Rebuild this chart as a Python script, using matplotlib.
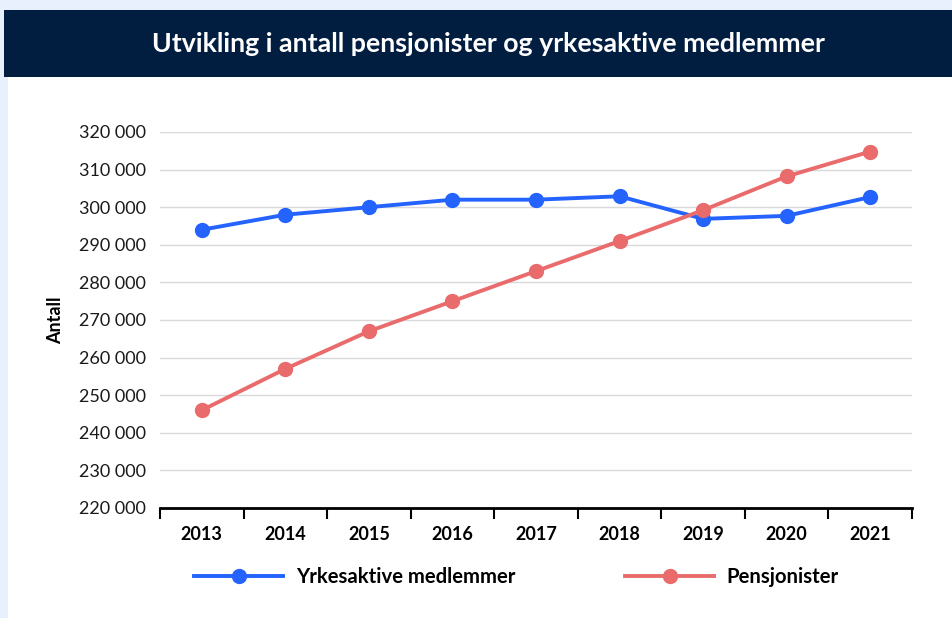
import matplotlib.pyplot as plt
from matplotlib.patches import Rectangle
from matplotlib.lines import Line2D
from matplotlib.ticker import FuncFormatter, FixedLocator

years = ["2013", "2014", "2015", "2016", "2017", "2018", "2019", "2020", "2021"]
yrkesaktive = [294000, 298000, 300000, 302000, 302000, 302900, 296900, 297700, 302700]
pensjonister = [246000, 257000, 267000, 275000, 283000, 291000, 299200, 308200, 314800]

blue = "#2563ff"
red = "#e96b6b"
navy = "#011e41"
bg = "#e7f0fc"

plt.rcParams['font.family'] = ['Lato', 'DejaVu Sans']

fig = plt.figure(figsize=[9.53, 6.18], dpi=100)
fig.patch.set_facecolor(bg)
W, H = 953, 618

# white card + header band
fig.patches.append(Rectangle((8 / W, 0), 1, 1 - 77 / H, transform=fig.transFigure,
                             facecolor="white", edgecolor="none", zorder=-5))
fig.patches.append(Rectangle((4 / W, 1 - 77 / H), 1, 67 / H, transform=fig.transFigure,
                             facecolor=navy, edgecolor="none", zorder=-5))
fig.text(488 / W, 1 - 44 / H, "Utvikling i antall pensjonister og yrkesaktive medlemmer",
         color="white", fontsize=19.3, fontweight="bold", ha="center", va="center")

ax = fig.add_axes([160 / W, 1 - 508 / H, 752 / W, 376 / H])
ax.set_facecolor("none")
x = range(len(years))
ax.plot(x, yrkesaktive, color=blue, lw=2.8, marker="o", ms=10, clip_on=False, zorder=3)
ax.plot(x, pensjonister, color=red, lw=2.8, marker="o", ms=10, clip_on=False, zorder=3)

ax.set_xlim(-0.5, len(years) - 0.5)
ax.set_ylim(220000, 320000)
ax.set_yticks(range(220000, 320001, 10000))
ax.yaxis.set_major_formatter(FuncFormatter(lambda v, p: f"{int(v):,}".replace(",", " ")))
ax.grid(axis="y", color="#d9d9d9", lw=1)
ax.set_axisbelow(True)

ax.set_xticks(list(x))
ax.set_xticklabels(years, fontweight="bold", fontsize=13)
ax.xaxis.set_minor_locator(FixedLocator([i - 0.5 for i in range(len(years) + 1)]))
ax.tick_params(axis="x", which="major", length=0, pad=13)
ax.tick_params(axis="x", which="minor", length=8, width=1.5, color="black", direction="out")
ax.tick_params(axis="y", length=0, pad=10, labelsize=13, labelcolor="#1a1a1a")

for s in ["top", "right", "left"]:
    ax.spines[s].set_visible(False)
ax.spines["bottom"].set_linewidth(2)
ax.spines["bottom"].set_color("black")

ax.set_ylabel("Antall", fontweight="bold", fontsize=13, labelpad=11)

h1 = Line2D([], [], color=blue, lw=2.8, marker="o", ms=10)
h2 = Line2D([], [], color=red, lw=2.8, marker="o", ms=10)
fig.legend([h1], ["Yrkesaktive medlemmer"], loc="center left",
           bbox_to_anchor=(176 / W, 1 - 577 / H), frameon=False,
           handlelength=4.4, handletextpad=0.6, prop={"weight": "bold", "size": 14.6})
fig.legend([h2], ["Pensjonister"], loc="center left",
           bbox_to_anchor=(607 / W, 1 - 577 / H), frameon=False,
           handlelength=4.4, handletextpad=0.6, prop={"weight": "bold", "size": 14.6})

fig.savefig("out.png", dpi=100, facecolor=fig.get_facecolor())
